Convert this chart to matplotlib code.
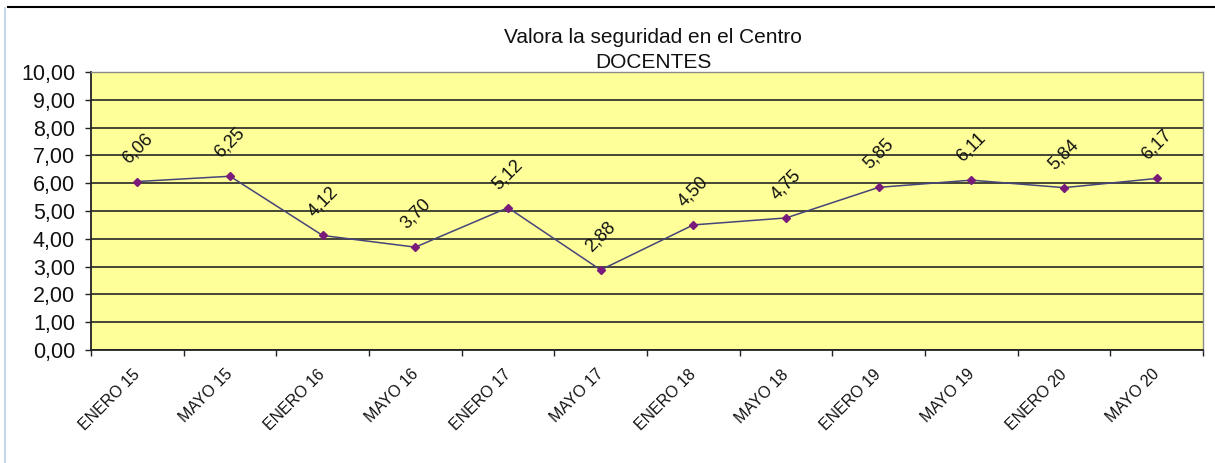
import matplotlib
matplotlib.use("Agg")
import matplotlib.pyplot as plt
from matplotlib.lines import Line2D
import matplotlib.transforms as mtransforms

categories = ["ENERO 15", "MAYO 15", "ENERO 16", "MAYO 16", "ENERO 17", "MAYO 17",
              "ENERO 18", "MAYO 18", "ENERO 19", "MAYO 19", "ENERO 20", "MAYO 20"]
values = [6.06, 6.25, 4.12, 3.70, 5.12, 2.88, 4.50, 4.75, 5.85, 6.11, 5.84, 6.17]
yticks = [0, 1, 2, 3, 4, 5, 6, 7, 8, 9, 10]
title_lines = ["Valora la seguridad en el Centro", "DOCENTES"]

def fmt(v):
    return f"{v:.2f}".replace(".", ",")

plt.rcParams['font.family'] = ['Liberation Sans', 'DejaVu Sans']

fig = plt.figure(figsize=(12.15, 4.63), dpi=100)
ax = fig.add_axes([91/1215, 1-350/463, (1203-91)/1215, (350-72)/463])
ax.set_facecolor('#FFFF99')

x = list(range(len(categories)))
ax.set_xlim(-0.5, len(categories) - 0.5)
ax.set_ylim(0, 10)

for t in yticks:
    ax.axhline(t, color='#262626', lw=1.2, zorder=1)

ax.plot(x, values, color='#45457a', lw=1.1, zorder=3,
        marker='D', markersize=4.5, markerfacecolor='#7a1a7a', markeredgecolor='#7a1a7a')

for xi, v in zip(x, values):
    ax.annotate(fmt(v), (xi, v), xytext=(0, 24), textcoords='offset points',
                ha='center', va='center', rotation=45, rotation_mode='anchor',
                fontsize=13, color='#111111', zorder=4)

ax.set_yticks(yticks)
ax.set_yticklabels([fmt(t) for t in yticks], fontsize=15.5, color='#111111')
ax.tick_params(axis='y', direction='out', length=4.5, width=1, color='#222222', pad=7)

ax.set_xticks([i - 0.5 for i in range(len(categories) + 1)])
ax.set_xticklabels([])
ax.tick_params(axis='x', which='major', direction='out', length=4.5, width=1, color='#222222')
ax.set_xticks(x, minor=True)
ax.set_xticklabels(categories, minor=True, rotation=45, ha='right', va='top',
                   rotation_mode='anchor', fontsize=11.5, color='#111111')
ax.tick_params(axis='x', which='minor', length=0, pad=12)
shift = mtransforms.ScaledTranslation(-5/100, 0, fig.dpi_scale_trans)
for lab in ax.get_xticklabels(minor=True):
    lab.set_transform(lab.get_transform() + shift)

for s in ['left', 'bottom']:
    ax.spines[s].set_color('#222222')
    ax.spines[s].set_linewidth(1.3)
for s in ['top', 'right']:
    ax.spines[s].set_color('#8a8a8a')
    ax.spines[s].set_linewidth(1.0)

fig.text(653/1215, 1-43/463, title_lines[0], ha='center', va='baseline', fontsize=15, color='#111111')
fig.text(653/1215, 1-68/463, title_lines[1], ha='center', va='baseline', fontsize=15, color='#111111')

fig.add_artist(Line2D([8/1215, 1.0], [1-7/463, 1-7/463], color='black', lw=1.5, transform=fig.transFigure))
fig.add_artist(Line2D([5/1215, 5/1215], [0, 1-8/463], color='#b8cde8', lw=1.2, transform=fig.transFigure))

fig.savefig("out.png", dpi=100, facecolor='white')
